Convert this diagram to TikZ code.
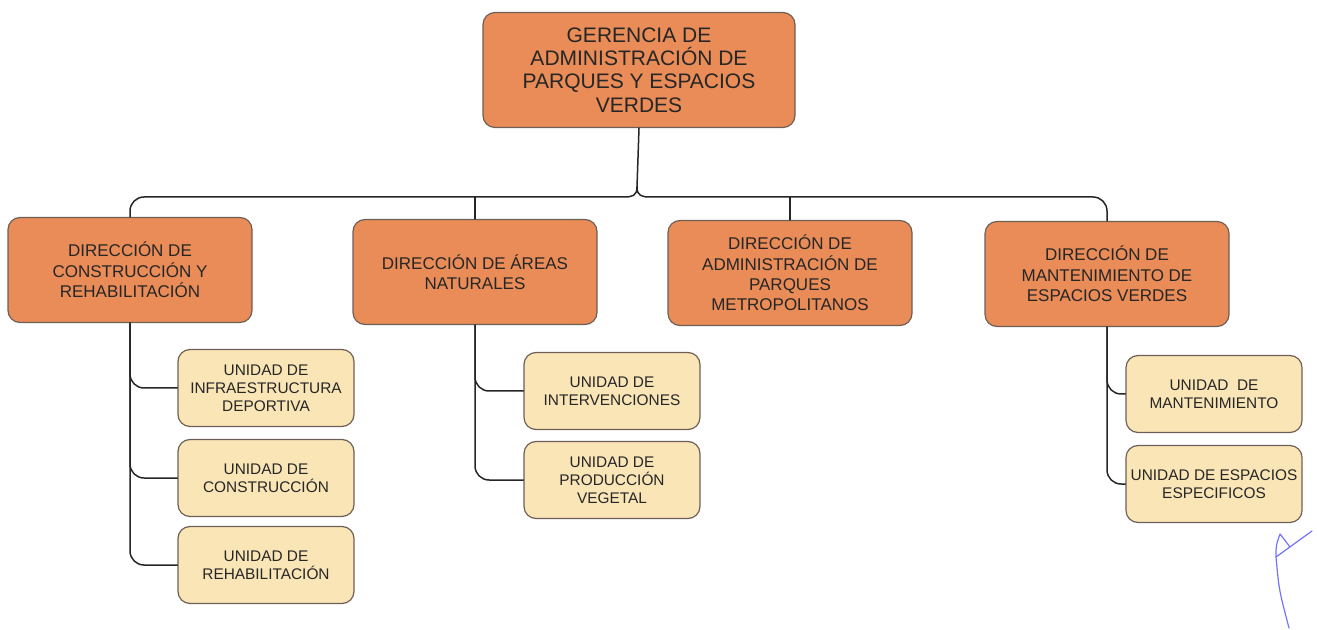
\documentclass[tikz,border=0pt]{standalone}
\usepackage{fontspec}
\setmainfont{Liberation Sans}
\definecolor{dirorange}{RGB}{233,140,88}
\definecolor{unitcream}{RGB}{250,229,183}
\definecolor{boxedge}{RGB}{110,96,86}
\tikzset{
	box/.style={draw=boxedge, line width=0.6pt, rounded corners=6pt, align=center, text=black!85, inner sep=2pt},
	gerbox/.style={box, fill=dirorange, minimum width=156pt, minimum height=57.5pt, font=\fontsize{10.5}{11.6}\selectfont},
	dirbox/.style={box, fill=dirorange, minimum width=122pt, minimum height=52.5pt, font=\fontsize{8.5}{10.2}\selectfont},
	unitbox/.style={box, fill=unitcream, minimum width=88pt, minimum height=38.5pt, font=\fontsize{7.7}{9}\selectfont},
	conn/.style={draw=black!85, line width=0.75pt}
}
\begin{document}
\begin{tikzpicture}[x=0.5pt, y=-0.5pt, line join=round, line cap=round]
	\useasboundingbox (0,0) rectangle (1317,630);
	% gerencia
	\node[gerbox] (ger) at (639,70) {GERENCIA DE\\ADMINISTRACIÓN DE\\PARQUES Y ESPACIOS\\VERDES};
	% direcciones
	\node[dirbox] (dirCon) at (130,270) {DIRECCIÓN DE\\CONSTRUCCIÓN Y\\REHABILITACIÓN};
	\node[dirbox] (dirAre) at (475,272) {DIRECCIÓN DE ÁREAS\\NATURALES};
	\node[dirbox] (dirAdm) at (790,273) {DIRECCIÓN DE\\ADMINISTRACIÓN DE\\PARQUES\\METROPOLITANOS};
	\node[dirbox] (dirMan) at (1107,274) {DIRECCIÓN DE\\MANTENIMIENTO DE\\ESPACIOS VERDES};
	% unidades
	\node[unitbox] (uInf) at (266,388) {UNIDAD DE\\INFRAESTRUCTURA\\DEPORTIVA};
	\node[unitbox] (uCon) at (266,478) {UNIDAD DE\\CONSTRUCCIÓN};
	\node[unitbox] (uReh) at (266,565) {UNIDAD DE\\REHABILITACIÓN};
	\node[unitbox] (uInt) at (612,391) {UNIDAD DE\\INTERVENCIONES};
	\node[unitbox] (uPro) at (612,480) {UNIDAD DE\\PRODUCCIÓN\\VEGETAL};
	\node[unitbox] (uMan) at (1214,394) {UNIDAD~ DE\\MANTENIMIENTO};
	\node[unitbox] (uEsp) at (1214,484) {UNIDAD DE ESPACIOS\\ESPECIFICOS};
	% bus
	\coordinate (tip) at (637,187);
	\coordinate (busL) at (624,197);
	\coordinate (busR) at (650,197);
	\draw[conn] (ger.south) -- (tip);
	\draw[conn] (tip) .. controls +(0,9) and +(8,0) .. (busL) [rounded corners=7pt] -| (dirCon.north);
	\draw[conn] (tip) .. controls +(0,9) and +(-8,0) .. (busR) [rounded corners=7pt] -| (dirMan.north);
	\draw[conn] (dirAre.north) -- (dirAre.north |- busL);
	\draw[conn] (dirAdm.north) -- (dirAdm.north |- busR);
	% ramas
	\foreach \u in {uInf,uCon,uReh}
		\draw[conn, rounded corners=7pt] (dirCon.south) |- (\u.west);
	\foreach \u in {uInt,uPro}
		\draw[conn, rounded corners=7pt] (dirAre.south) |- (\u.west);
	\foreach \u in {uMan,uEsp}
		\draw[conn, rounded corners=7pt] (dirMan.south) |- (\u.west);
	% visto bueno
	\draw[blue!55!white, line width=0.6pt] (1312,531) -- (1276,557);
	\draw[blue!55!white, line width=0.6pt] (1290,547) -- (1280,534) .. controls (1276,545) .. (1276,557) .. controls (1279,590) .. (1289,628);
\end{tikzpicture}
\end{document}
